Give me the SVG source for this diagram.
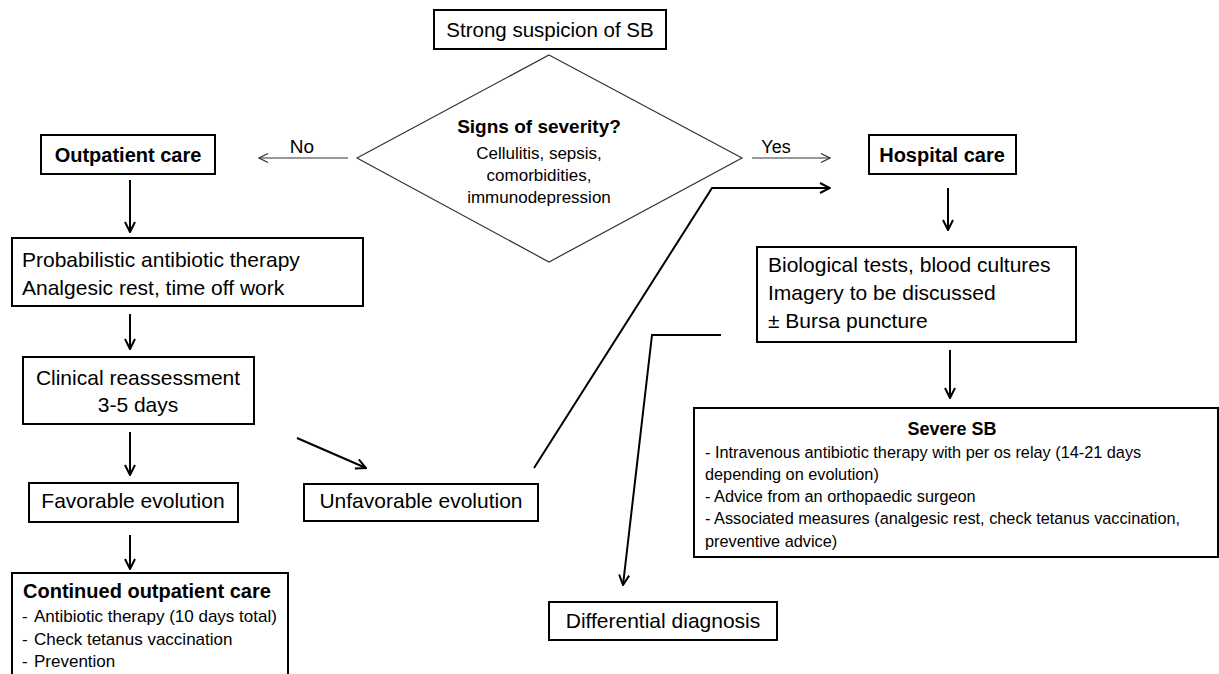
<svg xmlns="http://www.w3.org/2000/svg" width="1219" height="674" viewBox="0 0 1219 674">
<style>
.box{fill:#fff;stroke:#000;stroke-width:2}
.t{font-family:"Liberation Sans",Arial,sans-serif;font-size:21px;fill:#000}
.b{font-family:"Liberation Sans",Arial,sans-serif;font-size:20px;font-weight:bold;fill:#000}
.s{font-family:"Liberation Sans",Arial,sans-serif;font-size:16.3px;fill:#000}
.l{font-family:"Liberation Sans",Arial,sans-serif;font-size:17px;fill:#000}
.c{text-anchor:middle}
.con{fill:none;stroke:#000;stroke-width:2}
.thin{fill:none;stroke:#333;stroke-width:1.2}
</style>
<defs>
<marker id="arr" viewBox="0 0 12 12" refX="11" refY="6" markerWidth="12" markerHeight="12" markerUnits="userSpaceOnUse" orient="auto">
<path d="M1,1 L11,6 L1,11" fill="none" stroke="#000" stroke-width="2"/>
</marker>
<marker id="arrt" viewBox="0 0 12 12" refX="11" refY="6" markerWidth="12" markerHeight="12" markerUnits="userSpaceOnUse" orient="auto">
<path d="M2,1.5 L11,6 L2,10.5" fill="none" stroke="#333" stroke-width="1.2"/>
</marker>
</defs>

<g id="connectors">
<line class="thin" x1="348" y1="158" x2="259" y2="158" marker-end="url(#arrt)"/>
<line class="thin" x1="752" y1="158" x2="830" y2="158" marker-end="url(#arrt)"/>
<line class="con" x1="130" y1="180" x2="130" y2="232" marker-end="url(#arr)"/>
<line class="con" x1="130" y1="314" x2="130" y2="349" marker-end="url(#arr)"/>
<line class="con" x1="130" y1="432" x2="130" y2="475" marker-end="url(#arr)"/>
<line class="con" x1="130" y1="535" x2="130" y2="569" marker-end="url(#arr)"/>
<line class="con" x1="297" y1="438" x2="366" y2="468" marker-end="url(#arr)"/>
<polyline class="con" points="534,468 712,188 830,188" marker-end="url(#arr)"/>
<line class="con" x1="948" y1="188" x2="948" y2="230" marker-end="url(#arr)"/>
<line class="con" x1="950" y1="350" x2="950" y2="398" marker-end="url(#arr)"/>
<polyline class="con" points="721,335 652,335 623,585" marker-end="url(#arr)"/>
</g>

<g id="labels">
<text class="t c" x="302" y="153" style="font-size:19px">No</text>
<text class="t c" x="776" y="153" style="font-size:18px">Yes</text>
</g>

<g id="n-suspicion">
<rect class="box" x="434" y="10" width="232" height="39"/>
<text class="t c" x="550" y="37" style="font-size:20.5px">Strong suspicion of SB</text>
</g>

<g id="n-severity">
<polygon points="549,55 742,158 549,262 357,158" fill="#fff" stroke="#333" stroke-width="1.2"/>
<text class="b c" x="539" y="133" style="font-size:19px">Signs of severity?</text>
<text class="l c" x="539" y="159">Cellulitis, sepsis,</text>
<text class="l c" x="539" y="181">comorbidities,</text>
<text class="l c" x="539" y="203">immunodepression</text>
</g>

<g id="n-outpatient">
<rect class="box" x="41" y="135" width="174" height="39"/>
<text class="b c" x="128" y="162">Outpatient care</text>
</g>

<g id="n-probabilistic">
<rect class="box" x="12" y="238" width="351" height="68"/>
<text class="t" x="22" y="267">Probabilistic antibiotic therapy</text>
<text class="t" x="22" y="295">Analgesic rest, time off work</text>
</g>

<g id="n-clinical">
<rect class="box" x="23" y="357" width="231" height="67"/>
<text class="t c" x="138" y="385">Clinical reassessment</text>
<text class="t c" x="138" y="412">3-5 days</text>
</g>

<g id="n-favorable">
<rect class="box" x="29" y="483" width="209" height="39"/>
<text class="t c" x="133" y="508">Favorable evolution</text>
</g>

<g id="n-unfavorable">
<rect class="box" x="304" y="484" width="234" height="37"/>
<text class="t c" x="421" y="508">Unfavorable evolution</text>
</g>

<g id="n-continued">
<rect class="box" x="12" y="573" width="276" height="120"/>
<text class="b" x="23" y="598">Continued outpatient care</text>
<text class="l" x="22" y="622">-<tspan x="34">Antibiotic therapy (10 days total)</tspan></text>
<text class="l" x="22" y="645">-<tspan x="34">Check tetanus vaccination</tspan></text>
<text class="l" x="22" y="667">-<tspan x="34">Prevention</tspan></text>
</g>

<g id="n-hospital">
<rect class="box" x="869" y="135" width="147" height="39"/>
<text class="b c" x="942" y="162">Hospital care</text>
</g>

<g id="n-biological">
<rect class="box" x="757" y="247" width="319" height="95"/>
<text class="t" x="768" y="272">Biological tests, blood cultures</text>
<text class="t" x="768" y="300">Imagery to be discussed</text>
<text class="t" x="768" y="328">± Bursa puncture</text>
</g>

<g id="n-severe">
<rect class="box" x="694" y="408" width="524" height="149"/>
<text class="b c" x="952" y="435" style="font-size:18px">Severe SB</text>
<text class="s" x="705" y="458">- Intravenous antibiotic therapy with per os relay (14-21 days</text>
<text class="s" x="705" y="480">depending on evolution)</text>
<text class="s" x="705" y="502">- Advice from an orthopaedic surgeon</text>
<text class="s" x="705" y="524">- Associated measures (analgesic rest, check tetanus vaccination,</text>
<text class="s" x="705" y="547">preventive advice)</text>
</g>

<g id="n-differential">
<rect class="box" x="549" y="602" width="228" height="38"/>
<text class="t c" x="663" y="628">Differential diagnosis</text>
</g>
</svg>
